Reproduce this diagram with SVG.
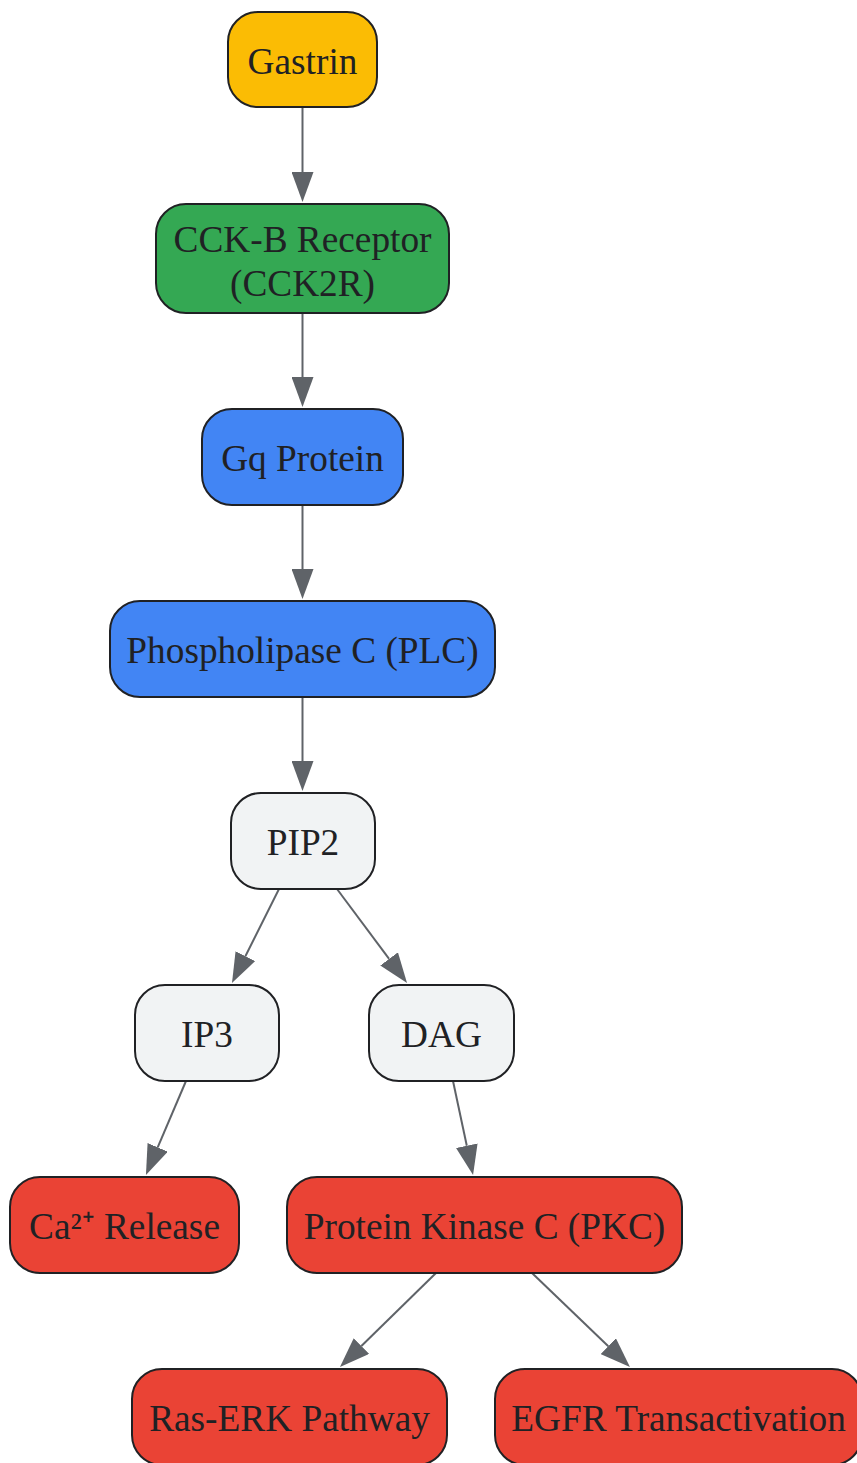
<svg xmlns="http://www.w3.org/2000/svg" width="857" height="1463" viewBox="0 0 857 1463">
<style>
.n rect{stroke:#202124;stroke-width:2}
.n text{font-family:"Liberation Serif","Times New Roman",serif;font-size:37.3px;fill:#202124;text-anchor:middle}
.y{fill:#fbbc04}.g{fill:#34a853}.b{fill:#4285f4}.w{fill:#f1f3f4}.r{fill:#ea4335}
.e line{stroke:#5f6368;stroke-width:2;marker-end:url(#ah)}
</style>
<defs>
<marker id="ah" viewBox="0 0 30 22" refX="0" refY="11" markerWidth="30" markerHeight="22" markerUnits="userSpaceOnUse" orient="auto">
<path d="M0,0 L30,11 L0,22 z" fill="#5f6368"/>
</marker>
</defs>
<g id="edges" class="e">
<line x1="302.5" y1="107" x2="302.5" y2="172"/>
<line x1="302.5" y1="313" x2="302.5" y2="377"/>
<line x1="302.5" y1="505" x2="302.5" y2="569"/>
<line x1="302.5" y1="697" x2="302.5" y2="761"/>
<line x1="279" y1="889" x2="245.4" y2="956.2"/>
<line x1="337" y1="889" x2="389.1" y2="958.9"/>
<line x1="186" y1="1081" x2="157.7" y2="1147.4"/>
<line x1="453" y1="1081" x2="466.8" y2="1145.7"/>
<line x1="436" y1="1273" x2="361.4" y2="1346"/>
<line x1="532" y1="1273" x2="608.3" y2="1346.2"/>
</g>
<g id="gastrin" class="n"><rect class="y" x="228" y="12" width="149" height="95" rx="30"/><text x="302.5" y="74">Gastrin</text></g>
<g id="cckbr" class="n"><rect class="g" x="156" y="204" width="293" height="109" rx="30"/><text x="302.5" y="252">CCK-B Receptor</text><text x="302.5" y="296">(CCK2R)</text></g>
<g id="gq" class="n"><rect class="b" x="202" y="409" width="201" height="96" rx="30"/><text x="302.5" y="471">Gq Protein</text></g>
<g id="plc" class="n"><rect class="b" x="110" y="601" width="385" height="96" rx="30"/><text x="302.5" y="663">Phospholipase C (PLC)</text></g>
<g id="pip2" class="n"><rect class="w" x="231" y="793" width="144" height="96" rx="30"/><text x="303" y="855">PIP2</text></g>
<g id="ip3" class="n"><rect class="w" x="135" y="985" width="144" height="96" rx="30"/><text x="207" y="1047">IP3</text></g>
<g id="dag" class="n"><rect class="w" x="369" y="985" width="145" height="96" rx="30"/><text x="441.5" y="1047">DAG</text></g>
<g id="ca" class="n"><rect class="r" x="10" y="1177" width="229" height="96" rx="30"/><text x="124.5" y="1239">Ca²⁺ Release</text></g>
<g id="pkc" class="n"><rect class="r" x="287" y="1177" width="395" height="96" rx="30"/><text x="484.5" y="1239">Protein Kinase C (PKC)</text></g>
<g id="raserk" class="n"><rect class="r" x="132" y="1369" width="315" height="96" rx="30"/><text x="289.5" y="1431">Ras-ERK Pathway</text></g>
<g id="egfr" class="n"><rect class="r" x="495" y="1369" width="367" height="96" rx="30"/><text x="678.5" y="1431">EGFR Transactivation</text></g>
</svg>
